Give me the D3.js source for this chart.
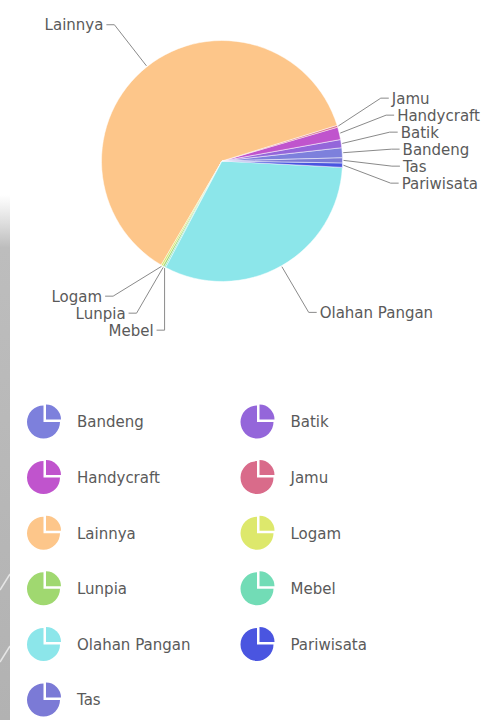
<!DOCTYPE html>
<html>
<head>
<meta charset="utf-8">
<script src="https://cdn.jsdelivr.net/npm/d3@7/dist/d3.min.js"></script>
<style>
  html, body { margin: 0; padding: 0; background: #ffffff; }
  svg { display: block; }
  text { font-family: "DejaVu Sans", Verdana, sans-serif; fill: #5a5a5a; }
</style>
</head>
<body>
<svg id="chart" width="483" height="720"></svg>
<script>
// Share of businesses per product category
const categories = ["Bandeng", "Batik", "Handycraft", "Jamu", "Lainnya", "Logam",
                    "Lunpia", "Mebel", "Olahan Pangan", "Pariwisata", "Tas"];
const values = [16, 13, 20, 3, 736, 3, 3, 2, 380, 7, 8];
const colors = ["#7d80dc", "#9466da", "#c054cd", "#d96b8a", "#fdc68a", "#dde86c",
                "#a0d870", "#72dcb6", "#8ce6ea", "#4a55e0", "#7b7ad6"];

const W = 483, H = 720;
const cx = 222, cy = 161, R = 120.5;
const startDeg = 88.5;               // slices run counter-clockwise from here
const fontSize = 15;

const svg = d3.select("#chart");

// faint grey strip down the left margin
const defs = svg.append("defs");
const grad = defs.append("linearGradient").attr("id", "strip")
  .attr("gradientUnits", "userSpaceOnUse")
  .attr("x1", 0).attr("y1", 195).attr("x2", 0).attr("y2", 720);
grad.append("stop").attr("offset", "0").attr("stop-color", "#c4c4c4").attr("stop-opacity", 0);
grad.append("stop").attr("offset", "0.1").attr("stop-color", "#bdbdbd").attr("stop-opacity", 1);
grad.append("stop").attr("offset", "1").attr("stop-color", "#b2b2b2").attr("stop-opacity", 1);
defs.append("clipPath").attr("id", "stripClip")
  .append("rect").attr("x", 0).attr("y", 195).attr("width", 10).attr("height", 525);
const strip = svg.append("g").attr("clip-path", "url(#stripClip)");
strip.append("rect").attr("x", 0).attr("y", 195).attr("width", 10).attr("height", 525)
  .attr("fill", "url(#strip)");
[590, 662].forEach(y0 => {
  strip.append("line").attr("x1", 0).attr("y1", y0).attr("x2", 10).attr("y2", y0 - 16)
    .attr("stroke", "#e6e6e6").attr("stroke-width", 1.5);
});

const color = d3.scaleOrdinal().domain(categories).range(colors);

const pie = d3.pie()
  .sort(null)
  .value(d => d.value)
  .startAngle(startDeg * Math.PI / 180)
  .endAngle(startDeg * Math.PI / 180 - 2 * Math.PI);

const data = categories.map((c, i) => ({ name: c, value: values[i] }));
const arcs = pie(data);
const arc = d3.arc().innerRadius(0).outerRadius(R);

const g = svg.append("g").attr("transform", `translate(${cx},${cy})`);
g.selectAll("path.slice")
  .data(arcs)
  .join("path")
  .attr("class", "slice")
  .attr("d", arc)
  .attr("fill", d => color(d.data.name))
  .attr("stroke", "#ffffff")
  .attr("stroke-opacity", 0.5)
  .attr("stroke-width", 1);

// ---- outside labels with leader lines ----
const Ry = 174;            // radius used for the natural label height
const bendRx = 170, bendRy = 176;   // ellipse on which leader lines bend
const gap = 17;            // minimum vertical spacing between labels
const dash = 8, textGap = 3;

const labels = arcs.map(a => {
  const mid = (a.startAngle + a.endAngle) / 2;
  return {
    name: a.data.name,
    mid,
    side: Math.sin(mid) >= 0 ? 1 : -1,
    ax: (R + 1) * Math.sin(mid),
    ay: -(R + 1) * Math.cos(mid),
    y: -Ry * Math.cos(mid)
  };
});

// spread overlapping labels on each side, keeping each cluster centred
function spread(list) {
  list.sort((a, b) => a.y - b.y);
  let clusters = list.map(l => ({ items: [l], mean: l.y }));
  let merged = true;
  while (merged) {
    merged = false;
    for (let i = 0; i < clusters.length - 1; i++) {
      const a = clusters[i], b = clusters[i + 1];
      const aBottom = a.mean + (a.items.length - 1) * gap / 2;
      const bTop = b.mean - (b.items.length - 1) * gap / 2;
      if (bTop - aBottom < gap) {
        const items = a.items.concat(b.items);
        const mean = d3.mean(items, d => d.natural);
        clusters.splice(i, 2, { items, mean });
        merged = true;
        break;
      }
    }
  }
  clusters.forEach(c => {
    const top = c.mean - (c.items.length - 1) * gap / 2;
    c.items.forEach((l, k) => { l.y = top + k * gap; });
  });
}
labels.forEach(l => { l.natural = l.y; });
spread(labels.filter(l => l.side > 0));
spread(labels.filter(l => l.side < 0));

labels.forEach(l => {
  const t = Math.min(1, (l.y / bendRy) ** 2);
  const ellX = l.side * bendRx * Math.sqrt(1 - t);
  l.bx = l.side > 0 ? Math.max(ellX, l.ax) : Math.min(ellX, l.ax);
});

const lg = g.append("g").attr("class", "labels");
lg.selectAll("polyline")
  .data(labels)
  .join("polyline")
  .attr("points", d => [[d.ax, d.ay], [d.bx, d.y], [d.bx + d.side * dash, d.y]].map(p => p.join(",")).join(" "))
  .attr("fill", "none")
  .attr("stroke", "#8a8a8a")
  .attr("stroke-width", 1);

lg.selectAll("text")
  .data(labels)
  .join("text")
  .attr("x", d => d.bx + d.side * (dash + textGap))
  .attr("y", d => d.y)
  .attr("dy", "0.36em")
  .attr("text-anchor", d => d.side > 0 ? "start" : "end")
  .style("font-size", fontSize + "px")
  .text(d => d.name);

// ---- legend ----
const legendX = d3.scalePoint().domain([0, 1]).range([43.5, 257]);
const legendY = d3.scaleLinear().domain([0, 5]).range([422, 700]);
const iconR = 16.5;
const bigPart = d3.arc().innerRadius(0).outerRadius(iconR).startAngle(Math.PI / 2).endAngle(2 * Math.PI);
const smallPart = d3.arc().innerRadius(0).outerRadius(iconR - 1.5).startAngle(0).endAngle(Math.PI / 2);

const legend = svg.append("g").attr("class", "legend");
const items = legend.selectAll("g.item")
  .data(categories)
  .join("g")
  .attr("class", "item")
  .attr("transform", (d, i) => `translate(${legendX(i % 2)},${legendY(Math.floor(i / 2))})`);

items.append("path").attr("d", bigPart()).attr("fill", d => color(d));
items.append("path").attr("d", smallPart()).attr("transform", "translate(2.5,-2.5)")
  .attr("fill", d => color(d));
items.append("text")
  .attr("x", 33.5)
  .attr("dy", "0.36em")
  .style("font-size", fontSize + "px")
  .text(d => d);
</script>
</body>
</html>
